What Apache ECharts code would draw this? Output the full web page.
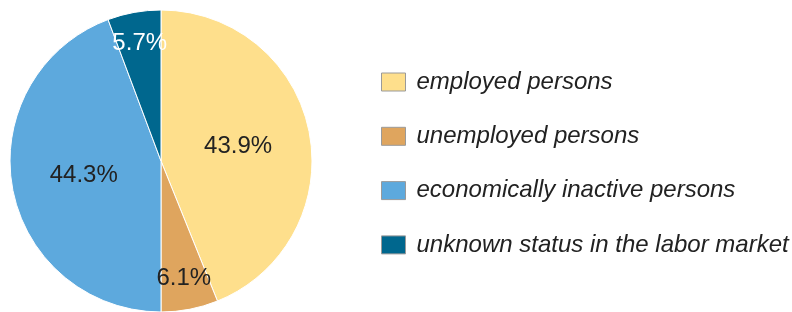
<!DOCTYPE html>
<html>
<head>
<meta charset="utf-8">
<script src="https://cdn.jsdelivr.net/npm/echarts@6/dist/echarts.min.js"></script>
<style>
html, body { margin: 0; padding: 0; background: #fff; }
#chart { width: 792px; height: 312px; }
</style>
</head>
<body>
<div id="chart"></div>
<script>
// labour market status shares (%)
const categories = ["employed persons", "unemployed persons", "economically inactive persons", "unknown status in the labor market"];
const values = [43.9, 6.1, 44.3, 5.7];
const colors = ["#fedf8c", "#dfa55e", "#5da9dd", "#00678e"];
const labelColors = ["#222", "#222", "#222", "#fff"];
// small slices get their label further out
const smallSlice = [false, true, false, true];

let myChart = echarts.init(document.getElementById("chart"));

let mainData = [];
let outerData = [];
for (let i = 0; i < categories.length; i++) {
    mainData.push({
        name: categories[i],
        value: values[i],
        itemStyle: { color: colors[i] },
        label: { show: !smallSlice[i], color: labelColors[i] }
    });
    outerData.push({
        name: categories[i],
        value: values[i],
        label: { show: smallSlice[i], color: labelColors[i] }
    });
}

const labelStyle = {
    position: "inside",
    fontFamily: "Liberation Sans, Arial, sans-serif",
    fontSize: 24,
    formatter: function (p) {
        return p.value.toFixed(1) + "%";
    }
};

let option = {
    animation: false,
    legend: {
        orient: "vertical",
        left: 381,
        top: 70,
        padding: 0,
        icon: "rect",
        itemWidth: 24,
        itemHeight: 18,
        itemGap: 30.3,
        selectedMode: false,
        data: categories,
        itemStyle: { borderColor: "#9a9a9a", borderWidth: 1 },
        textStyle: {
            fontFamily: "Liberation Sans, Arial, sans-serif",
            fontSize: 24,
            fontStyle: "italic",
            color: "#222",
            padding: [0, 0, 0, 6]
        }
    },
    series: [{
        name: "status",
        type: "pie",
        center: [161, 161],
        radius: [0, 151],
        startAngle: 90,
        clockwise: true,
        silent: true,
        itemStyle: { borderColor: "#fff", borderWidth: 1 },
        label: labelStyle,
        labelLine: { show: false },
        data: mainData
    }, {
        name: "labels",
        type: "pie",
        center: [161, 161],
        radius: [82, 151],
        startAngle: 90,
        clockwise: true,
        silent: true,
        itemStyle: { color: "rgba(0,0,0,0)" },
        label: labelStyle,
        labelLine: { show: false },
        data: outerData
    }]
};
myChart.setOption(option);
</script>
</body>
</html>
